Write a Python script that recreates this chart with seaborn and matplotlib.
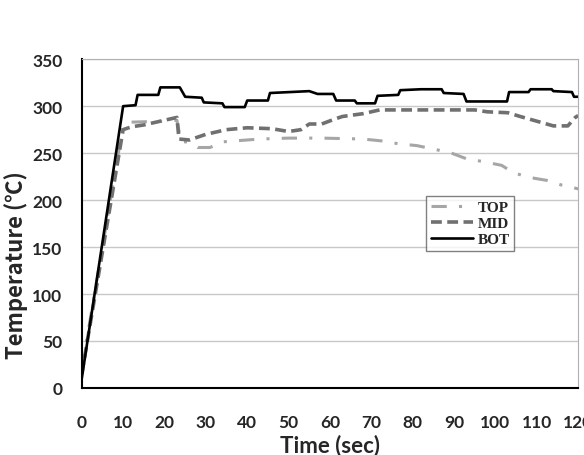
import matplotlib
matplotlib.use('Agg')
import matplotlib.pyplot as plt
import seaborn as sns
import pandas as pd
from matplotlib.ticker import MultipleLocator

# series vertices (time in sec, temperature in C)
top_time = [0, 10, 12, 20, 23, 24, 26, 28, 31, 34, 37, 43, 50, 58, 68, 72.5, 76.5,
            81, 85.4, 89.4, 93, 97, 101.5, 104.4, 108.4, 112.4, 116, 120]
top_temp = [20, 280, 283, 284, 285, 262, 262, 256, 256, 262, 263, 265, 266, 266, 265, 263, 260,
            258, 254, 250, 244, 241, 237, 229, 224, 221, 216, 212]

mid_time = [0, 10, 12, 15, 20, 23, 23.5, 26, 28, 30, 35, 40, 46, 50, 53, 55, 58, 61, 63,
            68, 72, 80, 95, 98, 103, 106, 110, 114, 117.5, 119.3, 120]
mid_temp = [15, 275, 278, 280, 285, 288, 265, 264, 267, 270, 275, 277, 276, 273, 275, 281, 281, 286, 289,
            292, 296, 296, 296, 294, 293, 289, 284, 279, 279, 288, 290]

bot_time = [0, 10, 13, 13.5, 18.5, 19, 23.7, 25, 29, 29.5, 34, 34.5, 39.4, 40, 45, 45.5, 50.3, 55,
            57, 60.8, 61.5, 66, 66.5, 70.9, 71.5, 76.5, 77, 82, 87, 87.5, 92.3, 93, 102.8, 103.3,
            108, 108.5, 113.6, 114, 118.5, 119, 120]
bot_temp = [10, 300, 301, 312, 312, 320, 320, 310, 309, 304, 303, 299, 299, 306, 306, 314, 315, 316,
            313, 313, 306, 306, 303, 303, 311, 312, 317, 318, 318, 314, 313, 305, 305, 315,
            315, 318, 318, 316, 315, 310, 310]

sns.set_style('white')
plt.rcParams['font.family'] = ['Lato', 'DejaVu Sans']

fig = plt.figure(figsize=(5.84, 4.56), dpi=100)
ax = fig.add_axes([0.140, 0.147, 0.850, 0.721])

top = pd.DataFrame({'t': top_time, 'T': top_temp})
mid = pd.DataFrame({'t': mid_time, 'T': mid_temp})
bot = pd.DataFrame({'t': bot_time, 'T': bot_temp})

sns.lineplot(data=top, x='t', y='T', ax=ax, color='#a6a6a6', lw=2.2,
             sort=False, estimator=None, label='TOP')
sns.lineplot(data=mid, x='t', y='T', ax=ax, color='#707070', lw=2.6,
             sort=False, estimator=None, label='MID')
sns.lineplot(data=bot, x='t', y='T', ax=ax, color='black', lw=1.9,
             sort=False, estimator=None, label='BOT')
ax.lines[0].set_dashes((5, 4, 1, 4))
ax.lines[1].set_dashes((3, 1.5))

ax.set_xlim(0, 120)
ax.set_ylim(0, 350)
ax.xaxis.set_major_locator(MultipleLocator(10))
ax.xaxis.set_minor_locator(MultipleLocator(2))
ax.yaxis.set_major_locator(MultipleLocator(50))
ax.yaxis.set_minor_locator(MultipleLocator(10))
ax.yaxis.grid(True, color='#c8c8c8', lw=1)
ax.set_axisbelow(True)

ax.tick_params(axis='both', which='both', direction='in', top=False, right=False)
ax.tick_params(which='major', length=5, width=1.2, color='black')
ax.tick_params(which='minor', length=3, width=1, color='black')
ax.tick_params(axis='x', which='major', pad=19)
ax.tick_params(axis='y', which='major', pad=14)
for lab in ax.get_xticklabels() + ax.get_yticklabels():
    lab.set_fontweight('bold')
    lab.set_fontsize(12.5)

ax.spines['left'].set_color('black')
ax.spines['bottom'].set_color('black')
ax.spines['left'].set_linewidth(1.5)
ax.spines['bottom'].set_linewidth(1.5)
ax.spines['top'].set_color('#b0b0b0')
ax.spines['right'].set_color('#b0b0b0')

ax.set_xlabel('Time (sec)', fontsize=16, fontweight='bold')
ax.set_ylabel('Temperature (℃)', fontsize=16, fontweight='bold',
              family=['Noto Sans CJK KR', 'DejaVu Sans'])
ax.xaxis.set_label_coords(0.5, -0.14)
ax.yaxis.set_label_coords(-0.133, 0.377)
ax.yaxis.label.set_va('center')

leg = ax.legend(loc='upper left', bbox_to_anchor=(0.694, 0.584), borderaxespad=0,
                fancybox=False, frameon=True, handlelength=2.75, handletextpad=0.3,
                labelspacing=0.15, borderpad=0.3,
                prop={'family': 'Liberation Serif', 'weight': 'bold', 'size': 11})
leg.get_frame().set_edgecolor('#606060')
leg.get_frame().set_linewidth(1)

plt.savefig('out.png', dpi=100)
